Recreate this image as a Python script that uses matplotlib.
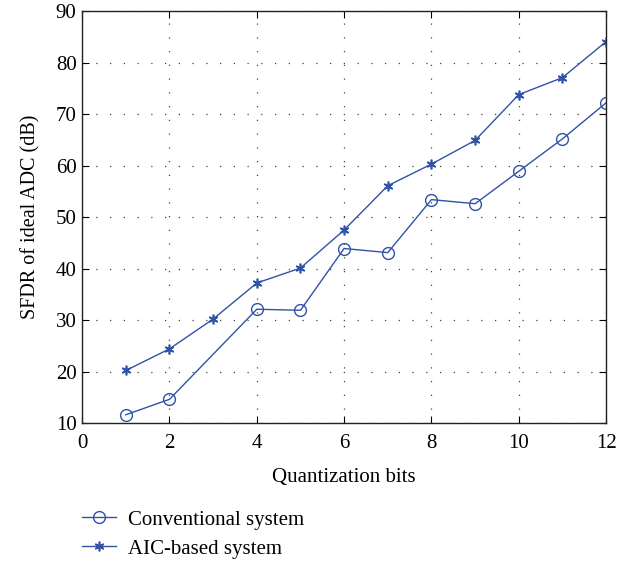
import matplotlib.pyplot as plt

plt.rcParams['font.family'] = ['Liberation Serif', 'DejaVu Serif']
fontSize = 15
blue = '#3152A6'

# Conventional system has no point at 3 bits
bits_conv = [1, 2, 4, 5, 6, 7, 8, 9, 10, 11, 12]
sfdr_conv = [11.6, 14.6, 32.1, 31.9, 43.9, 43.1, 53.4, 52.6, 58.9, 65.2, 72.2]

bits_aic = [1, 2, 3, 4, 5, 6, 7, 8, 9, 10, 11, 12]
sfdr_aic = [20.2, 24.4, 30.2, 37.2, 40.1, 47.5, 56.1, 60.3, 64.9, 73.8, 77.1, 84.1]

xticks = [0, 2, 4, 6, 8, 10, 12]
yticks = [10, 20, 30, 40, 50, 60, 70, 80, 90]

fig = plt.figure(figsize=(6.32, 5.61), dpi=100)
ax = fig.add_axes([0.130, 0.246, 0.829, 0.734])

ax.plot(bits_conv, sfdr_conv, color=blue, linewidth=1.0, marker='o',
        markersize=8.5, markerfacecolor='none', markeredgewidth=1.0,
        label='Conventional system')
ax.plot(bits_aic, sfdr_aic, color=blue, linewidth=1.0, marker=(6, 2, 0),
        markersize=7, markeredgewidth=1.2, label='AIC-based system')

ax.set_xlim(0, 12)
ax.set_ylim(10, 90)
ax.set_xticks(xticks)
ax.set_yticks(yticks)
ax.tick_params(direction='in', top=True, right=True, length=5, width=0.8,
               labelsize=fontSize)
ax.tick_params(axis='x', pad=8)
ax.tick_params(axis='y', pad=4)
ax.grid(True, linestyle=(0, (1, 10)), color='#444444', linewidth=0.9)
for s in ax.spines.values():
    s.set_linewidth(1.0)
    s.set_color('#222222')

ax.set_xlabel('Quantization bits', size=fontSize, labelpad=11)
ax.set_ylabel('SFDR of ideal ADC (dB)', size=14.5, labelpad=11)

fig.legend(loc='center left', bbox_to_anchor=(0.129, 0.0475),
           frameon=False, fontsize=fontSize, handlelength=1.65,
           handletextpad=0.6, labelspacing=0.45, borderaxespad=0,
           borderpad=0)

fig.savefig('out.png', dpi=100)
